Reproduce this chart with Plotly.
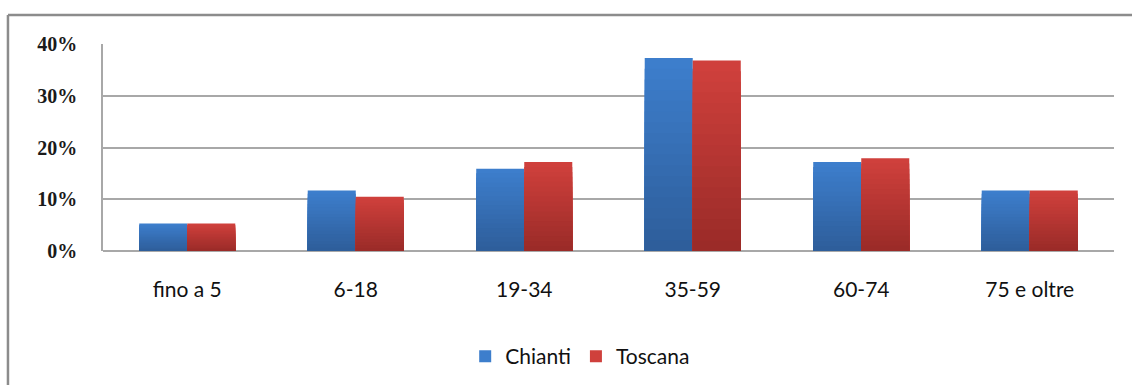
import plotly.graph_objects as go

# Age classes and population shares (fraction of total)
categories = ["fino a 5", "6-18", "19-34", "35-59", "60-74", "75 e oltre"]
chianti = [0.053, 0.117, 0.159, 0.373, 0.172, 0.117]
toscana = [0.053, 0.105, 0.172, 0.368, 0.179, 0.117]
y_ticks = [0, 0.1, 0.2, 0.3, 0.4]
y_tick_labels = ["0%", "10%", "20%", "30%", "40%"]

STEPS = 18


def mix(c1, c2, t):
    return "rgb({},{},{})".format(*[round(a + (b - a) * t) for a, b in zip(c1, c2)])


def gradient_bars(fig, name, values, dark, light):
    # Overlay progressively shorter bars so each column shades from
    # the light top colour down to the dark base colour.
    for k in range(STEPS, 0, -1):
        frac = k / STEPS
        fig.add_trace(go.Bar(
            x=categories,
            y=[v * frac for v in values],
            name=name,
            offsetgroup=name,
            legendgroup=name,
            showlegend=(k == STEPS),
            marker=dict(color=mix(dark, light, frac), line=dict(width=0)),
            hoverinfo="skip" if k != STEPS else None,
        ))


fig = go.Figure()
gradient_bars(fig, "Chianti", chianti, (45, 92, 152), (61, 126, 204))
gradient_bars(fig, "Toscana", toscana, (152, 42, 39), (207, 64, 60))

label_font = dict(family="Lato, Open Sans, sans-serif", size=21, color="#111")

fig.update_layout(
    width=1132,
    height=385,
    margin=dict(l=103, r=18, t=44, b=134, autoexpand=False),
    paper_bgcolor="white",
    plot_bgcolor="white",
    barmode="group",
    bargap=0.43,
    bargroupgap=0,
    showlegend=True,
    legend=dict(
        orientation="h",
        x=0.472, xanchor="center",
        y=-0.51, yanchor="middle",
        font=label_font,
        itemwidth=30,
        traceorder="normal",
    ),
    xaxis=dict(
        showgrid=False,
        showline=False,
        ticks="",
        ticklabelstandoff=24,
        tickfont=label_font,
        automargin=False,
        fixedrange=True,
    ),
    yaxis=dict(
        range=[0, 0.4],
        tickvals=y_ticks,
        ticktext=y_tick_labels,
        showgrid=True,
        gridcolor="#A8A8A8",
        gridwidth=1.5,
        showline=True,
        linecolor="#A8A8A8",
        linewidth=1.5,
        zeroline=True,
        zerolinecolor="#A8A8A8",
        zerolinewidth=1.5,
        ticks="",
        ticklabelstandoff=20,
        tickfont=dict(family="Liberation Serif, DejaVu Serif, serif", size=20,
                      color="#1a1a1a", weight="bold"),
        automargin=False,
        fixedrange=True,
    ),
    shapes=[
        # outer chart frame
        dict(type="line", xref="paper", yref="paper",
             x0=-0.094, x1=1.05, y0=1.14, y1=1.14,
             line=dict(color="#8C8C8C", width=2.5)),
        dict(type="line", xref="paper", yref="paper",
             x0=-0.094, x1=-0.094, y0=1.14, y1=-0.7,
             line=dict(color="#8C8C8C", width=2.5)),
    ],
)

fig.write_html("out.html")
